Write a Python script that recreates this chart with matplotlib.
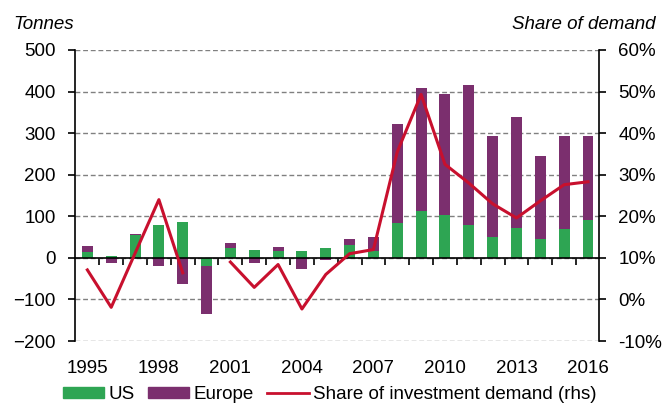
import numpy as np
import matplotlib
matplotlib.use("Agg")
import matplotlib.pyplot as plt
from matplotlib.lines import Line2D
from matplotlib.patches import Patch

plt.rcParams['font.family'] = ['Liberation Sans', 'DejaVu Sans']

## data (tonnes, share in %)
years = list(range(1995, 2017))
us = [13, 5, 55, 79, 87, -20, 24, 20, 17, 17, 24, 31, 17,
      84, 113, 103, 80, 50, 73, 46, 70, 91]
europe = [15, -12, 3, -20, -64, -114, 12, -12, 8, -27, -5, 15, 33,
          238, 295, 291, 336, 243, 265, 199, 223, 202]
share = [7.1, -1.9, 11.1, 24.0, 6.4, np.nan, 9.0, 2.9, 8.4, -2.3, 6.0, 11.0, 12.0,
         35.5, 49.3, 32.5, 28.0, 23.0, 19.6, 23.7, 27.6, 28.3]
label_years = [1995, 1998, 2001, 2004, 2007, 2010, 2013, 2016]

green = '#2EA553'
purple = '#7B2F6E'
red = '#C8102E'
fs = 13.5

us_a = np.array(us, dtype=float)
eu_a = np.array(europe, dtype=float)
# europe stacks on top of US when the signs agree, else starts from zero
eu_bottom = np.where(eu_a >= 0, np.maximum(us_a, 0), np.minimum(us_a, 0))

fig = plt.figure(figsize=(6.67, 4.03), dpi=100)
ax = fig.add_axes([0.1124, 0.1538, 0.7856, 0.7222])

ax.bar(years, us_a, width=0.46, color=green, zorder=2)
ax.bar(years, eu_a, width=0.46, bottom=eu_bottom, color=purple, zorder=2)

ax.set_xlim(1994.48, 2016.46)
ax.set_ylim(-200, 500)
ax.set_yticks(range(-200, 501, 100))
ax.yaxis.grid(True, linestyle=(0, (3.5, 2)), color='#808080', linewidth=1.0, zorder=0)
ax.set_axisbelow(True)

# x axis sits on zero, ticks between years
ax.spines['bottom'].set_position(('data', 0))
ax.spines['top'].set_visible(False)
ax.spines['right'].set_visible(False)
ax.spines['left'].set_linewidth(1.2)
ax.spines['bottom'].set_linewidth(1.2)
ax.set_xticks(years, labels=[])
ax.set_xticks(np.arange(1995.5, 2016, 1), minor=True)
ax.tick_params(axis='x', which='major', length=0)
ax.tick_params(axis='x', which='minor', length=5, width=1.2, direction='out')
ax.tick_params(axis='y', length=5, width=1.2, direction='out', labelsize=fs, pad=9)

sec = ax.secondary_xaxis(0.0)
sec.set_xticks(label_years)
sec.spines['bottom'].set_visible(False)
sec.tick_params(length=0, pad=14, labelsize=fs)

ax2 = ax.twinx()
ax2.plot(years, share, color=red, linewidth=2.2, zorder=5)
ax2.set_ylim(-10, 60)
ax2.set_yticks(range(-10, 61, 10))
ax2.set_yticklabels([f'{v}%' for v in range(-10, 61, 10)])
for s in ['top', 'bottom', 'left']:
    ax2.spines[s].set_visible(False)
ax2.spines['right'].set_linewidth(1.2)
ax2.tick_params(axis='y', length=5, width=1.2, direction='out', labelsize=fs, pad=9)

fig.text(0.0195, 0.939, 'Tonnes', fontsize=fs, style='italic', ha='left', va='center')
fig.text(0.9835, 0.939, 'Share of demand', fontsize=fs, style='italic', ha='right', va='center')

handles = [Patch(color=green), Patch(color=purple), Line2D([0], [0], color=red, lw=2)]
fig.legend(handles, ['US', 'Europe', 'Share of investment demand (rhs)'],
           loc='center', bbox_to_anchor=(0.494, 0.021), ncol=3, frameon=False,
           fontsize=fs, handlelength=2.2, handleheight=0.55, handletextpad=0.22,
           columnspacing=0.73, borderpad=0)

fig.savefig('out.png', dpi=100)
